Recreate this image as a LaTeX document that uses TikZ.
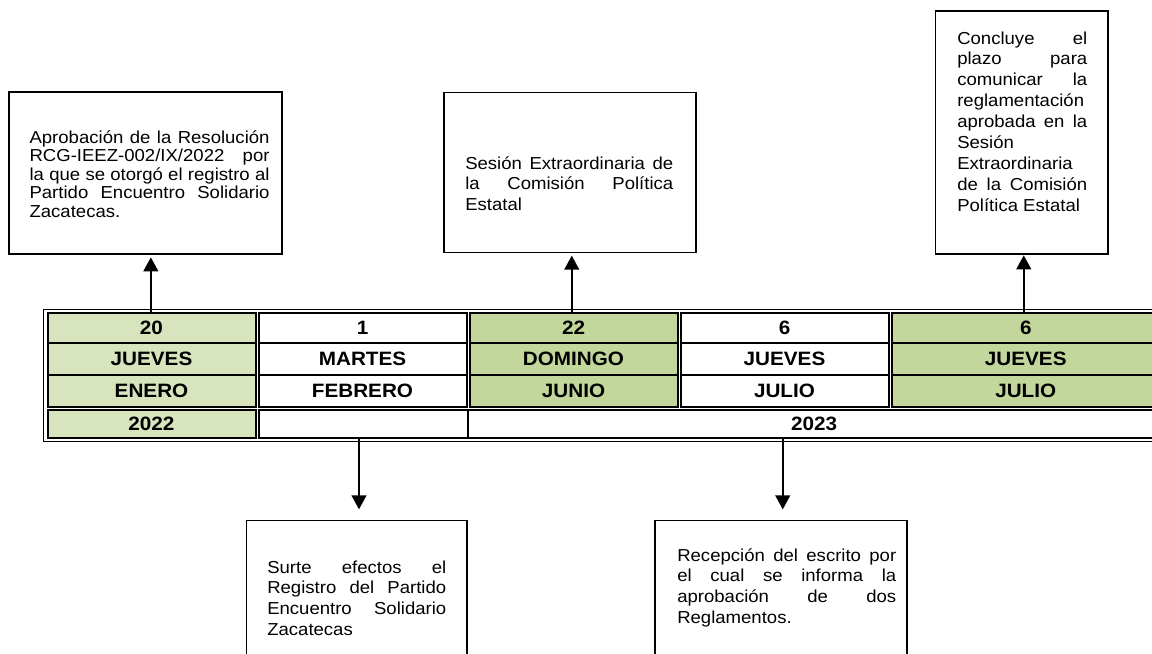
\documentclass[tikz,border=0pt]{standalone}
\usepackage{fontspec}
\setmainfont{Liberation Sans}[FakeStretch=1.07]
\usetikzlibrary{arrows.meta}
\definecolor{lgreen}{HTML}{D7E4BD}
\definecolor{mgreen}{HTML}{C3D69B}
\newcommand\jl[1]{\makebox[\linewidth][s]{#1}}
\newcommand\boxtext[3]{\parbox[t]{#1}{\fontsize{13pt}{#2}\selectfont\parindent=0pt\noindent #3}}
\newcommand\cellnode[7]{\node[cell, fill=#6, minimum width={(#4-#2)*0.75pt}, minimum height={(#5-#3)*0.75pt}] (#1) at ({(#2+#4)/2},{(#3+#5)/2}) {#7};}
\begin{document}
\begin{tikzpicture}[x=0.75pt,y=-0.75pt,
  cell/.style={draw, line width=1.5pt, inner sep=0pt, font=\fontsize{14.5pt}{16pt}\selectfont\bfseries},
  ebox/.style={draw, line width=1pt, inner sep=0pt},
  arr/.style={line width=1.5pt, -{Triangle[width=11pt,length=10.5pt]}},
  txt/.style={anchor=base west, inner sep=0pt}]
\useasboundingbox (0,0) rectangle (1152,653);
% outer frame
\draw[line width=1.4pt] (43.5,309.5) rectangle (1163,441.5);
% row 1
\cellnode{d1}{47.5}{312.5}{255.5}{343.3}{lgreen}{20}
\cellnode{d2}{258.5}{312.5}{466.5}{343.3}{white}{1}
\cellnode{d3}{469.5}{312.5}{677.5}{343.3}{mgreen}{22}
\cellnode{d4}{680.5}{312.5}{888.5}{343.3}{white}{6}
\cellnode{d5}{891.5}{312.5}{1160}{343.3}{mgreen}{6}
% row 2
\cellnode{w1}{47.5}{343.3}{255.5}{375.3}{lgreen}{JUEVES}
\cellnode{w2}{258.5}{343.3}{466.5}{375.3}{white}{MARTES}
\cellnode{w3}{469.5}{343.3}{677.5}{375.3}{mgreen}{DOMINGO}
\cellnode{w4}{680.5}{343.3}{888.5}{375.3}{white}{JUEVES}
\cellnode{w5}{891.5}{343.3}{1160}{375.3}{mgreen}{JUEVES}
% row 3
\cellnode{m1}{47.5}{375.3}{255.5}{406.7}{lgreen}{ENERO}
\cellnode{m2}{258.5}{375.3}{466.5}{406.7}{white}{FEBRERO}
\cellnode{m3}{469.5}{375.3}{677.5}{406.7}{mgreen}{JUNIO}
\cellnode{m4}{680.5}{375.3}{888.5}{406.7}{white}{JULIO}
\cellnode{m5}{891.5}{375.3}{1160}{406.7}{mgreen}{JULIO}
% row 4
\cellnode{y1}{47.5}{409.6}{255.5}{438.3}{lgreen}{2022}
\cellnode{y2}{258.5}{409.6}{468}{438.3}{white}{}
\cellnode{y3}{468}{409.6}{1160}{438.3}{white}{2023}
% event boxes
\node[ebox, minimum width={273*0.75pt}, minimum height={162*0.75pt}] (bA) at (145.5,173) {};
\node[ebox, minimum width={252*0.75pt}, minimum height={160*0.75pt}] (bB) at (570,172.3) {};
\node[ebox, minimum width={172.3*0.75pt}, minimum height={243*0.75pt}] (bC) at (1021.85,132.5) {};
\node[ebox, minimum width={220.3*0.75pt}, minimum height={150*0.75pt}] (bD) at (356.85,595.7) {};
\node[ebox, minimum width={252*0.75pt}, minimum height={150*0.75pt}] (bE) at (781,595.7) {};
% texts
\node[txt] (tA) at (29.3,143.3) {\boxtext{180pt}{13.9pt}{%
\jl{Aprobación de la Resolución}\\
\jl{RCG-IEEZ-002/IX/2022 por}\\
\jl{la que se otorgó el registro al}\\
\jl{Partido Encuentro Solidario}\\
Zacatecas.}};
\node[txt] (tB) at (465,169.5) {\boxtext{156pt}{15.2pt}{%
\jl{Sesión Extraordinaria de}\\
\jl{la Comisión Política}\\
Estatal}};
\node[txt] (tC) at (957,44) {\boxtext{97.5pt}{15.7pt}{%
\jl{Concluye el}\\
\jl{plazo para}\\
\jl{comunicar la}\\
reglamentación\\
\jl{aprobada en la}\\
Sesión\\
Extraordinaria\\
\jl{de la Comisión}\\
Política Estatal}};
\node[txt] (tD) at (267,573) {\boxtext{134.25pt}{15.6pt}{%
\jl{Surte efectos el}\\
\jl{Registro del Partido}\\
\jl{Encuentro Solidario}\\
Zacatecas}};
\node[txt] (tE) at (677,561) {\boxtext{164.25pt}{15.6pt}{%
\jl{Recepción del escrito por}\\
\jl{el cual se informa la}\\
\jl{aprobación de dos}\\
Reglamentos.}};
% arrows
\draw[arr, shorten >=2pt] ([xshift=-0.5pt]d1.north) -- ([xshift=-0.5pt]d1.north |- bA.south);
\draw[arr, shorten >=2pt] ([xshift=-1.3pt]d3.north) -- ([xshift=-1.3pt]d3.north |- bB.south);
\draw[arr, shorten >=0.5pt] ([xshift=-1.5pt]d5.north) -- ([xshift=-1.5pt]d5.north |- bC.south);
\draw[arr, shorten >=8pt] ([xshift=1.6pt]bD.north |- y2.south) -- ([xshift=1.6pt]bD.north);
\draw[arr, shorten >=8pt] ([xshift=1.3pt]bE.north |- y3.south) -- ([xshift=1.3pt]bE.north);
\end{tikzpicture}
\end{document}
